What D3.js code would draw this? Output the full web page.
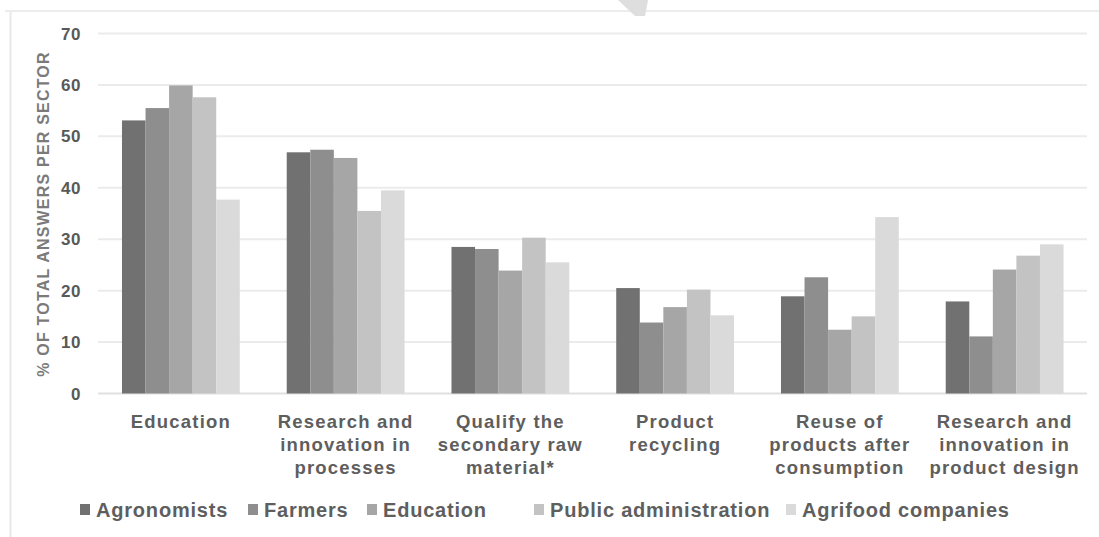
<!DOCTYPE html>
<html>
<head>
<meta charset="utf-8">
<script src="https://cdn.jsdelivr.net/npm/d3@7"></script>
<style>
  html, body { margin: 0; padding: 0; background: #fff; }
  svg { display: block; }
  text { font-family: "Liberation Sans", Arial, sans-serif; font-weight: bold; }
</style>
</head>
<body>
<svg id="chart" width="1099" height="537"></svg>
<script>
const categories = [
  ["Education"],
  ["Research and", "innovation in", "processes"],
  ["Qualify the", "secondary raw", "material*"],
  ["Product", "recycling"],
  ["Reuse of", "products after", "consumption"],
  ["Research and", "innovation in", "product design"]
];
const seriesNames = ["Agronomists", "Farmers", "Education", "Public administration", "Agrifood companies"];
const agronomists = [53.1, 46.9, 28.5, 20.5, 18.9, 17.9];
const farmers     = [55.5, 47.4, 28.1, 13.8, 22.6, 11.1];
const education   = [59.9, 45.8, 23.9, 16.8, 12.4, 24.1];
const publicAdmin = [57.6, 35.5, 30.3, 20.2, 15.0, 26.8];
const agrifood    = [37.7, 39.5, 25.5, 15.2, 34.3, 29.0];
const yTicks = [0, 10, 20, 30, 40, 50, 60, 70];
const colors = ["#717171", "#8e8e8e", "#a6a6a6", "#c3c3c3", "#dadada"];

const series = [agronomists, farmers, education, publicAdmin, agrifood];
const svg = d3.select("#chart");

// outer frame
svg.append("line").attr("x1", 10.5).attr("x2", 10.5).attr("y1", 10.5).attr("y2", 537).attr("stroke", "#e8e8e8").attr("stroke-width", 2);
svg.append("line").attr("x1", 5).attr("x2", 1099).attr("y1", 11).attr("y2", 11).attr("stroke", "#ececec").attr("stroke-width", 2);
// small artifact at top
svg.append("polygon").attr("points", "618,0 648,0 645,16 635,16").attr("fill", "#dedede");

const x0 = d3.scaleBand().domain(d3.range(categories.length)).range([98.5, 1087]).paddingInner(0.285).paddingOuter(0.1425);
const x1 = d3.scaleBand().domain(d3.range(seriesNames.length)).range([0, x0.bandwidth()]);
const y = d3.scaleLinear().domain([0, 70]).range([393.5, 33.5]);

// gridlines
svg.append("g").selectAll("line").data(yTicks).join("line")
  .attr("x1", 98).attr("x2", 1087)
  .attr("y1", d => y(d)).attr("y2", d => y(d))
  .attr("stroke", d => d === 0 ? "#e0e0e0" : "#ebebeb").attr("stroke-width", 2);

// y tick labels
svg.append("g").selectAll("text").data(yTicks).join("text")
  .attr("x", 81).attr("y", d => y(d)).attr("dy", "0.36em")
  .attr("text-anchor", "end").attr("font-size", 17).attr("letter-spacing", 0.6)
  .attr("fill", "#595959").text(d => d);

// y axis title
svg.append("text")
  .attr("transform", "translate(49,214) rotate(-90)")
  .attr("text-anchor", "middle").attr("font-size", 16).attr("letter-spacing", 1.2)
  .attr("fill", "#7a7a7a").text("% OF TOTAL ANSWERS PER SECTOR");

// bars
const groups = svg.append("g").selectAll("g").data(categories).join("g")
  .attr("transform", (d, i) => `translate(${x0(i)},0)`);
groups.selectAll("rect").data((d, i) => series.map((s, j) => ({ j, v: s[i] }))).join("rect")
  .attr("x", d => x1(d.j)).attr("width", x1.bandwidth())
  .attr("y", d => y(d.v)).attr("height", d => y(0) - y(d.v))
  .attr("fill", d => colors[d.j]);

// category labels
const labels = svg.append("g").selectAll("text").data(categories).join("text")
  .attr("text-anchor", "middle").attr("font-size", 18.5).attr("letter-spacing", 1.2)
  .attr("fill", "#5e5e5e");
labels.each(function(lines, i) {
  const t = d3.select(this);
  lines.forEach((ln, k) => {
    t.append("tspan").attr("x", x0(i) + x0.bandwidth() / 2).attr("y", 428 + k * 23).text(ln);
  });
});

// legend
const legendX = [80, 248, 367, 534, 786];
const leg = svg.append("g").selectAll("g").data(seriesNames).join("g")
  .attr("transform", (d, i) => `translate(${legendX[i]},0)`);
leg.append("rect").attr("x", 0).attr("y", 504).attr("width", 10).attr("height", 11).attr("fill", (d, i) => colors[i]);
leg.append("text").attr("x", 16).attr("y", 517).attr("font-size", 20).attr("letter-spacing", 0.8)
  .attr("fill", "#5e5e5e").text(d => d);
</script>
</body>
</html>
